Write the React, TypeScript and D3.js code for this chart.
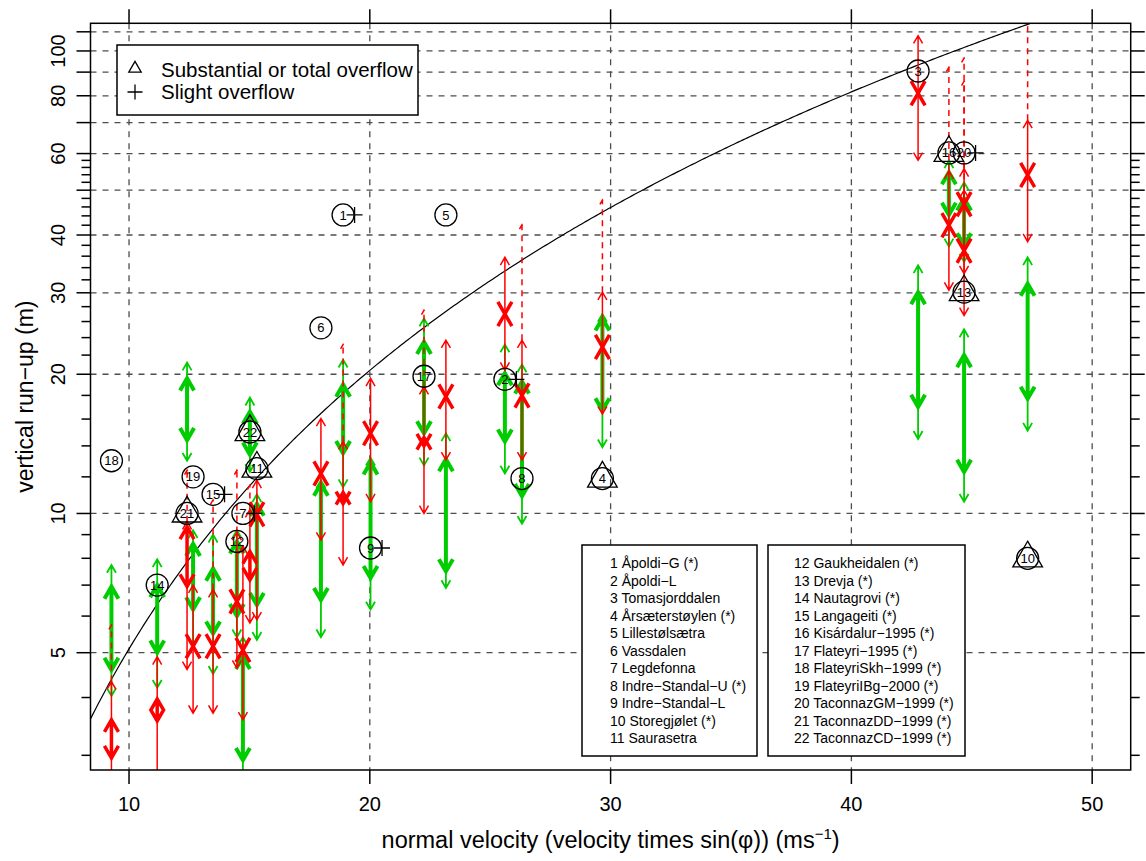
import React from "react";
import * as d3 from "d3";

// plot frame (px)
const W = 1146;
const H = 861;
const left = 90.5;
const right = 1130.7;
const top = 23.3;
const bottom = 770;

// 22 avalanche paths
const pathNames = [
  "Åpoldi−G (*)", "Åpoldi−L", "Tomasjorddalen", "Årsæterstøylen (*)", "Lillestølsætra",
  "Vassdalen", "Legdefonna", "Indre−Standal−U (*)", "Indre−Standal−L", "Storegjølet (*)",
  "Saurasetra", "Gaukheidalen (*)", "Drevja (*)", "Nautagrovi (*)", "Langageiti (*)",
  "Kisárdalur−1995 (*)", "Flateyri−1995 (*)", "FlateyriSkh−1999 (*)", "FlateyriIBg−2000 (*)",
  "TaconnazGM−1999 (*)", "TaconnazDD−1999 (*)", "TaconnazCD−1999 (*)",
];
// normal velocity (m/s)
const pathVelocity = [18.89, 25.61, 42.77, 29.66, 23.16, 17.97, 14.73, 26.32, 20.03, 47.32, 15.31,
  14.48, 44.68, 11.17, 13.49, 44.05, 22.25, 9.27, 12.66, 44.68, 12.41, 15.02];
// observed vertical run-up (m)
const pathRunup = [44.2, 19.5, 90.5, 11.9, 44.2, 25.2, 10.0, 11.9, 8.42, 8.0, 12.5,
  8.7, 30.1, 7.0, 11.0, 60.2, 19.8, 13.0, 12.0, 60.2, 10.0, 15.0];
// overflow type: "tri" substantial, "plus" slight
const pathOverflow = ["plus", "plus", "", "tri", "", "", "plus", "", "plus", "tri", "tri",
  "", "tri", "", "plus", "tri", "", "", "", "plus", "tri", "tri"];

// green estimate: [thin low, thick low, thick high, thin high]
const greenRange = [
  [11.4, 13.5, 19.0, 21.5], [12.2, 14.3, 20.1, 23.2], [14.5, 17.0, 30.1, 34.4], [13.9, 16.7, 26.4, 27.0],
  [6.9, 7.5, 13.1, 14.9], [5.4, 6.5, 11.6, 11.8], [2.6, 2.93, 4.9, 5.4], [9.5, 10.9, 19.3, 21.0],
  [6.2, 7.25, 12.9, 13.2], [15.1, 17.7, 31.4, 35.8], [5.33, 6.34, 10.5, 11.0], [5.4, 6.0, 8.7, 9.2],
  [10.6, 12.3, 22.0, 25.0], [4.2, 5.0, 7.0, 7.96], [4.5, 5.5, 7.6, 9.0], [37.8, 44.2, 54.7, 58.0],
  [12.7, 14.9, 23.5, 26.4], [4.03, 4.59, 6.95, 7.74], [5.2, 6.2, 8.6, 9.2], [35.0, 38.0, 48.0, 52.0],
  [13.0, 14.4, 19.6, 21.2], [12.3, 13.4, 16.6, 17.8],
];
// red estimate: [thin low, thick low, thick high, thin high]
const redRange = [
  [7.74, 10.5, 11.1, 14.3], [20.4, 27.0, 27.0, 35.8], [58.0, 81.0, 81.0, 107.9], [16.4, 22.9, 22.9, 30.1],
  [13.05, 17.9, 17.9, 23.7], [8.76, 12.2, 12.2, 16.05], [3.58, 5.07, 5.07, 8.5], [13.05, 18.0, 18.0, 23.7],
  [10.6, 14.9, 14.9, 19.6], [38.7, 53.9, 53.9, 70.8], [5.89, 9.96, 9.96, 11.8], [4.63, 6.45, 6.45, 9.1],
  [26.8, 37.0, 37.0, 50.0], [2.5, 3.56, 3.97, 4.9], [3.7, 5.16, 5.16, 6.85], [30.4, 42.0, 42.0, 55.0],
  [10.0, 14.0, 14.6, 18.8], [2.5, 2.96, 3.58, 4.33], [3.7, 5.16, 5.16, 7.0], [33.0, 46.6, 46.6, 55.6],
  [4.6, 6.95, 9.35, 9.6], [5.8, 7.18, 8.28, 10.2],
];
// red dashed upper extension (null = none)
const redDashTop = [23.2, null, null, 47.6, null, null, null, 42.1, null, 130, null,
  12.4, 86, null, 10.7, 92.2, 27.5, 5.74, null, 96.5, 12.4, 11.5];

const xTicks = [10, 20, 30, 40, 50];
const yMajor = [5, 10, 20, 30, 40, 50, 60, 70, 80, 90, 100, 110];
const yMinor = [3, 4, 6, 7, 8, 9, 12, 14, 16, 18, 22, 24, 26, 28, 32, 34, 36, 38, 42, 44, 46, 48, 52, 54, 56, 58];
const yLabels = [5, 10, 20, 30, 40, 60, 80, 100];

const font = "Liberation Sans, Arial, Helvetica, sans-serif";
const GREEN = "#00cd00";
const RED = "#ff0000";

const S30 = 0.5;
const C30 = Math.sqrt(3) / 2;

// shaft from yLo to yHi (pixels), head up at yHi and down at yLo
function arrowD(px: number, yLo: number, yHi: number, L: number, lowHead = true) {
  let d = `M${px},${yLo}L${px},${yHi}`;
  d += `M${px - L * S30},${yHi + L * C30}L${px},${yHi}L${px + L * S30},${yHi + L * C30}`;
  if (lowHead) d += `M${px - L * S30},${yLo - L * C30}L${px},${yLo}L${px + L * S30},${yLo - L * C30}`;
  return d;
}

function triD(cx: number, cy: number, s: number) {
  const r = 1.5551 * s, xc = 1.3468 * s, yc = 0.7776 * s;
  return `M${cx},${cy - r}L${cx + xc},${cy + yc}L${cx - xc},${cy + yc}Z`;
}

export default function App() {
  const x = d3.scaleLinear().domain([8.4, 51.6]).range([left, right]);
  const y = d3.scaleLog().domain([Math.pow(10, 0.44536), Math.pow(10, 2.05979)]).range([bottom, top]);

  const curveV = d3.range(8.3, 48.0, 0.1);
  const curve = d3.line<number>().x((v) => x(v)).y((v) => y((v * v) / (2 * 9.81)))(curveV) || "";

  const idx = d3.range(pathNames.length);

  return (
    <svg width={W} height={H} style={{ display: "block", position: "absolute", left: 0, top: 0 }} fontFamily={font}>
      <defs>
        <clipPath id="plotclip">
          <rect x={left} y={top} width={right - left} height={bottom - top} />
        </clipPath>
      </defs>
      <rect width={W} height={H} fill="#fff" />

      {/* grid */}
      <g stroke="#4d4d4d" strokeWidth={1.3} strokeDasharray="6,6">
        {xTicks.map((t) => (
          <line key={"gx" + t} x1={x(t)} x2={x(t)} y1={top} y2={bottom} />
        ))}
        {yMajor.map((t) => (
          <line key={"gy" + t} x1={left} x2={right} y1={y(t)} y2={y(t)} />
        ))}
      </g>

      <g clipPath="url(#plotclip)" fill="none" strokeLinecap="butt">
        <path d={curve} stroke="#000" strokeWidth={1.2} />
        {/* green estimates */}
        {idx.map((i) => {
          const px = x(pathVelocity[i]);
          const g = greenRange[i];
          return (
            <g key={"g" + i} stroke={GREEN}>
              <path d={arrowD(px, y(g[0]), y(g[3]), 9)} strokeWidth={1.8} />
              <path d={arrowD(px, y(g[1]), y(g[2]), 14)} strokeWidth={4} />
            </g>
          );
        })}
        {/* red estimates */}
        {idx.map((i) => {
          const px = x(pathVelocity[i]);
          const r = redRange[i];
          const dt = redDashTop[i];
          return (
            <g key={"r" + i} stroke={RED}>
              {dt !== null && (
                <path d={arrowD(px, y(r[3]), y(dt as number), 5, false)} strokeWidth={1.5} strokeDasharray="6,5" />
              )}
              <path d={arrowD(px, y(r[0]), y(r[3]), 9)} strokeWidth={1.5} />
              <path d={arrowD(px, y(r[1]), y(r[2]), 14)} strokeWidth={3.5} />
            </g>
          );
        })}
        {/* observed run-up */}
        {idx.map((i) => {
          const px = x(pathVelocity[i]);
          const py = y(pathRunup[i]);
          return (
            <g key={"p" + i}>
              <circle cx={px} cy={py} r={11} stroke="#000" strokeWidth={1.3} />
              {pathOverflow[i] === "tri" && <path d={triD(px, py, 11)} stroke="#000" strokeWidth={1.3} />}
              {pathOverflow[i] === "plus" && (
                <path d={`M${px + 3.5},${py}L${px + 19.5},${py}M${px + 11.5},${py - 8}L${px + 11.5},${py + 8}`} stroke="#000" strokeWidth={1.3} />
              )}
              <text x={px} y={py + 4.6} textAnchor="middle" fontSize={13} fill="#000" stroke="none">
                {i + 1}
              </text>
            </g>
          );
        })}
      </g>

      {/* frame */}
      <rect x={left} y={top} width={right - left} height={bottom - top} fill="none" stroke="#000" strokeWidth={1.5} />

      {/* ticks */}
      <g stroke="#000" strokeWidth={1.5}>
        {xTicks.map((t) => (
          <g key={"tx" + t}>
            <line x1={x(t)} x2={x(t)} y1={bottom} y2={bottom + 14} />
            <line x1={x(t)} x2={x(t)} y1={top} y2={top - 14} />
          </g>
        ))}
        {yMajor.map((t) => (
          <g key={"ty" + t}>
            <line x1={left} x2={left - 14} y1={y(t)} y2={y(t)} />
            <line x1={right} x2={right + 14} y1={y(t)} y2={y(t)} />
          </g>
        ))}
        {yMinor.map((t) => (
          <g key={"tm" + t}>
            <line x1={left} x2={left - 9} y1={y(t)} y2={y(t)} />
            <line x1={right} x2={right + 9} y1={y(t)} y2={y(t)} />
          </g>
        ))}
      </g>

      {/* tick labels */}
      <g fontSize={20} fill="#000">
        {xTicks.map((t) => (
          <text key={"lx" + t} x={x(t)} y={811} textAnchor="middle">{t}</text>
        ))}
        {yLabels.map((t) => (
          <text key={"ly" + t} transform={`translate(65,${y(t)}) rotate(-90)`} textAnchor="middle">{t}</text>
        ))}
      </g>

      {/* axis titles */}
      <text x={(left + right) / 2} y={848} textAnchor="middle" fontSize={23.5}>
        <tspan>normal velocity (velocity times sin(φ)) (ms</tspan>
        <tspan dy={-9} fontSize={15}>−1</tspan>
        <tspan dy={9}>)</tspan>
      </text>
      <text transform={`translate(33,${(top + bottom) / 2}) rotate(-90)`} textAnchor="middle" fontSize={23}>
        vertical run−up (m)
      </text>

      {/* overflow legend */}
      <g>
        <rect x={117} y={45} width={301} height={70} fill="#fff" stroke="#000" strokeWidth={1.5} />
        <path d={triD(135, 68.5, 4.6)} fill="none" stroke="#000" strokeWidth={1.3} />
        <path d="M127.5,92L142.5,92M135,84.5L135,99.5" stroke="#000" strokeWidth={1.3} />
        <text x={161} y={76.5} fontSize={20.5}>Substantial or total overflow</text>
        <text x={161} y={99} fontSize={20.5}>Slight overflow</text>
      </g>

      {/* path name legends */}
      {[0, 1].map((col) => {
        const bx = col === 0 ? 582 : 768;
        const bw = col === 0 ? 175 : 197;
        const tx = col === 0 ? 610 : 794;
        const names = pathNames.slice(col * 11, col * 11 + 11);
        return (
          <g key={"leg" + col}>
            <rect x={bx} y={545} width={bw} height={211} fill="#fff" stroke="#000" strokeWidth={1.5} />
            {names.map((n, j) => (
              <text key={n} x={tx} y={568.3 + j * 17.5} fontSize={14}>
                {`${col * 11 + j + 1} ${n}`}
              </text>
            ))}
          </g>
        );
      })}
    </svg>
  );
}
